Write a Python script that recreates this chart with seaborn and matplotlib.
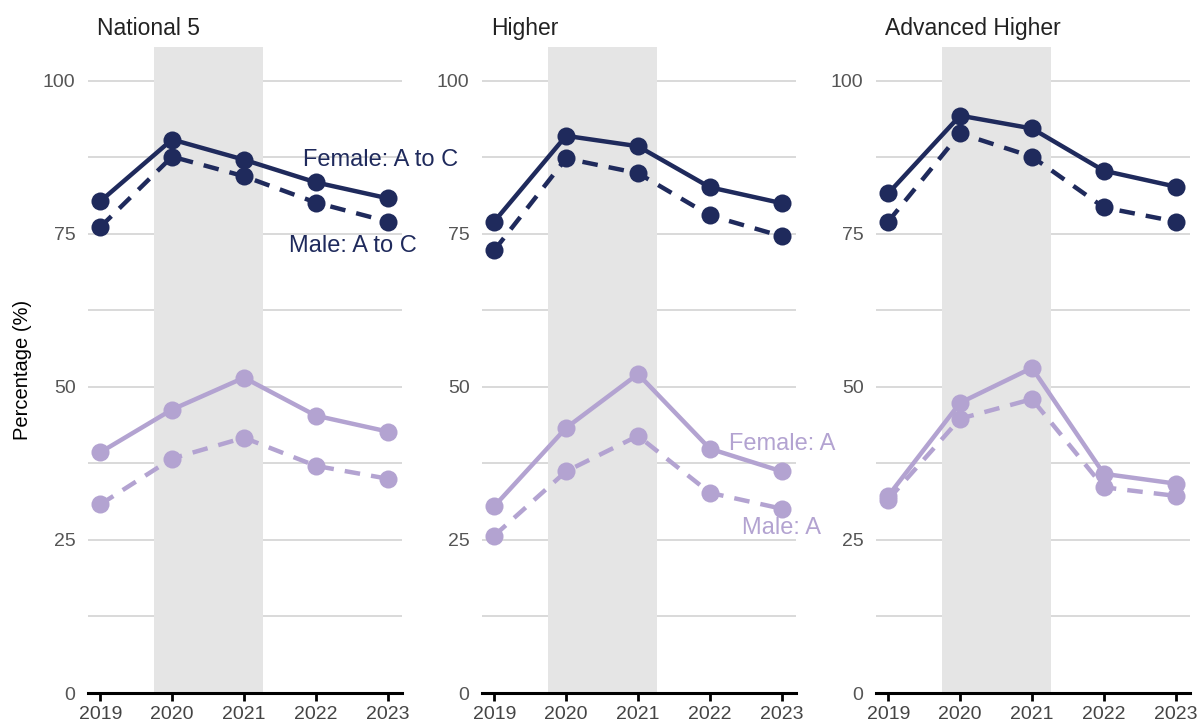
import pandas as pd
import numpy as np
import seaborn as sns
import matplotlib.pyplot as plt
from matplotlib.ticker import MultipleLocator

years = [2019, 2020, 2021, 2022, 2023]
panels = ["National 5", "Higher", "Advanced Higher"]

# percentages
female_a_to_c = {"National 5": [80.3, 90.4, 87.1, 83.4, 80.8],
                 "Higher": [77.0, 91.0, 89.3, 82.6, 80.0],
                 "Advanced Higher": [81.6, 94.3, 92.2, 85.3, 82.7]}
male_a_to_c = {"National 5": [76.1, 87.6, 84.4, 80.1, 77.0],
               "Higher": [72.3, 87.3, 84.9, 78.0, 74.6],
               "Advanced Higher": [77.0, 91.4, 87.6, 79.3, 77.0]}
female_a = {"National 5": [39.3, 46.3, 51.5, 45.3, 42.7],
            "Higher": [30.5, 43.3, 52.1, 39.9, 36.2],
            "Advanced Higher": [32.2, 47.4, 53.1, 35.8, 34.2]}
male_a = {"National 5": [30.8, 38.3, 41.7, 37.1, 35.0],
          "Higher": [25.7, 36.2, 42.0, 32.7, 30.1],
          "Advanced Higher": [31.6, 44.8, 48.0, 33.6, 32.2]}

navy = "#1f2a5c"
lilac = "#b3a3d1"

rows = []
for p in panels:
    for src, grade, sex in [(female_a_to_c, "A to C", "Female"),
                            (male_a_to_c, "A to C", "Male"),
                            (female_a, "A", "Female"),
                            (male_a, "A", "Male")]:
        for y, v in zip(years, src[p]):
            rows.append({"panel": p, "year": y, "pct": v, "grade": grade, "sex": sex})
df = pd.DataFrame(rows)

sns.set_style("white")
plt.rcParams["font.family"] = ["Liberation Sans", "DejaVu Sans"]

fig = plt.figure(figsize=(11.99, 7.25), dpi=100)
lefts = [0.0734, 0.402, 0.7306]
axes = [fig.add_axes([l, 0.0441, 0.262, 0.891]) for l in lefts]

for ax, p in zip(axes, panels):
    sub = df[df["panel"] == p]
    ax.axvspan(2019.75, 2021.27, color="#e5e5e5", zorder=1, lw=0)
    sns.lineplot(data=sub, x="year", y="pct", hue="grade", style="sex",
                 hue_order=["A to C", "A"], style_order=["Female", "Male"],
                 palette=[navy, lilac], dashes={"Female": "", "Male": (3.5, 2.5)},
                 marker="o", markersize=13, markeredgewidth=0, linewidth=3.2,
                 legend=False, ax=ax, zorder=3)
    ax.set_xlim(2018.83, 2023.2)
    ax.set_ylim(0, 105.5)
    ax.set_xticks(years)
    ax.set_yticks([0, 25, 50, 75, 100])
    ax.yaxis.set_minor_locator(MultipleLocator(12.5))
    ax.grid(axis="y", which="both", color="#d9d9d9", lw=1.4, zorder=0)
    ax.set_axisbelow(True)
    for s in ["top", "right", "left"]:
        ax.spines[s].set_visible(False)
    ax.spines["bottom"].set_color("black")
    ax.spines["bottom"].set_linewidth(2.2)
    ax.spines["bottom"].set_zorder(4)
    ax.tick_params(axis="x", bottom=True, length=6, width=2, color="black", labelsize=14,
                   labelcolor="#444444", pad=3)
    ax.tick_params(axis="y", which="both", left=False, length=0, labelsize=14,
                   labelcolor="#555555", pad=9)
    ax.set_xlabel("")
    ax.set_ylabel("")
    ax.set_title(p, loc="left", fontsize=16.5, color="#222222", x=0.03, y=1.005, pad=6)

axes[0].set_ylabel("Percentage (%)", fontsize=14.5, color="black", labelpad=8)

axes[0].text(2021.82, 87.1, "Female: A to C", color=navy, fontsize=17, va="center", ha="left")
axes[0].text(2021.62, 73.0, "Male: A to C", color=navy, fontsize=17, va="center", ha="left")
axes[1].text(2022.26, 40.7, "Female: A", color=lilac, fontsize=17, va="center", ha="left")
axes[1].text(2022.45, 26.9, "Male: A", color=lilac, fontsize=17, va="center", ha="left")

fig.savefig("out.png", dpi=100)
